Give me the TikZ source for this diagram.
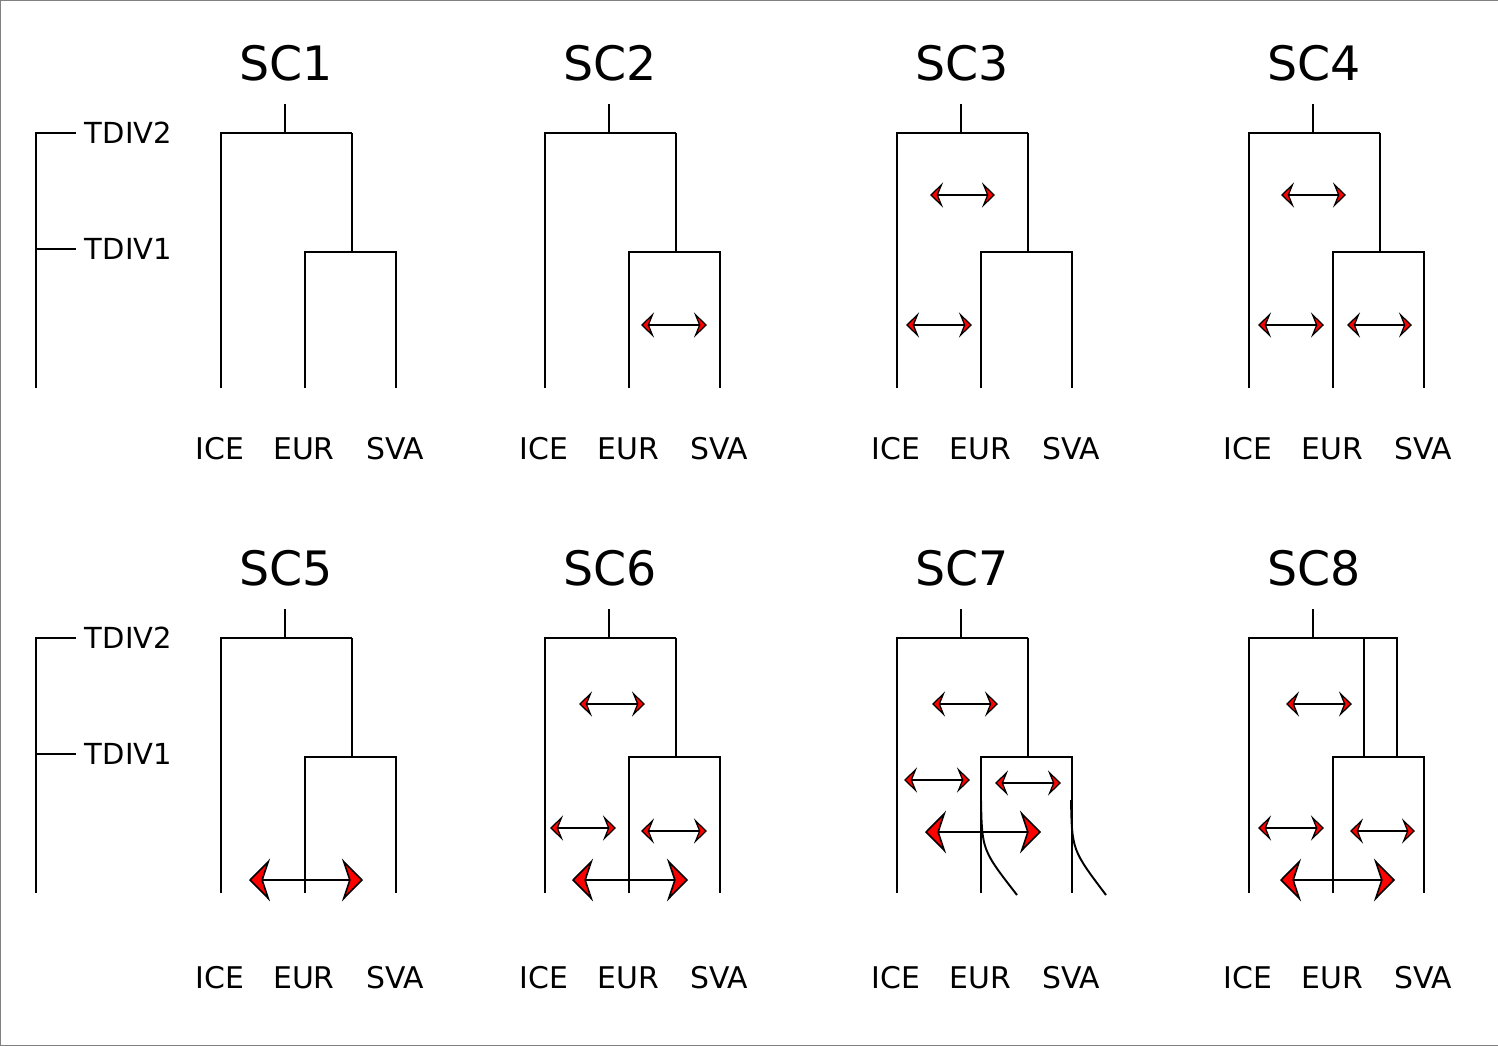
\documentclass[tikz,border=0pt]{standalone}
\usepackage{fontspec}
\setmainfont{DejaVu Sans}
\usetikzlibrary{arrows.meta}

\begin{document}
\begin{tikzpicture}[x=0.02cm, y=-0.02cm, line width=1.1pt]
        %style
        \tikzset{mig/.style = {{Stealth[length=2.6mm, width=5mm, inset=1mm, fill=red, line width=0.7pt]}-{Stealth[length=2.6mm, width=5mm, inset=1mm, fill=red, line width=0.7pt]}, line width=1.1pt}}
        \tikzset{bigmig/.style = {{Stealth[length=4.2mm, width=8.5mm, inset=1.4mm, fill=red, line width=0.9pt]}-{Stealth[length=4.2mm, width=8.5mm, inset=1.4mm, fill=red, line width=0.9pt]}, line width=1.3pt}}
        \tikzset{title/.style = {font=\fontsize{27}{30}\selectfont}}
        \tikzset{pop/.style = {font=\fontsize{17}{19}\selectfont}}
        \tikzset{tdiv/.style = {font=\fontsize{16.5}{18}\selectfont, anchor=west, inner sep=0pt}}
        \newcommand{\sctree}[5]{%
          \begin{scope}[shift={(#1,#2)}]
            \node[title] (t#3) at (286,63) {#3};
            \draw (285,104) -- (285,133);
            \draw (221,388) -- (221,133) -- (#4,133);
            \draw (305,388) -- (305,252) -- (396,252) -- (396,388);
            \node[pop] (ice#3) at (220,#5) {ICE};
            \node[pop] (eur#3) at (304,#5) {EUR};
            \node[pop] (sva#3) at (395,#5) {SVA};
          \end{scope}}
        \newcommand{\scale}[1]{%
          \begin{scope}[shift={(0,#1)}]
            \draw (36,388) -- (36,133) -- (76,133);
            \draw (36,249) -- (76,249);
            \node[tdiv] (d2) at (84,133) {TDIV2};
            \node[tdiv] (d1) at (84,249) {TDIV1};
          \end{scope}}
        \useasboundingbox (0,0) rectangle (1498,1045);
        \draw[line width=0.5pt, gray] (0,0) rectangle (1498,1045);
        \scale{0}
        \scale{505}
        \sctree{0}{0}{SC1}{352}{449}
        \sctree{324}{0}{SC2}{352}{449}
        \sctree{676}{0}{SC3}{352}{449}
        \sctree{1028}{0}{SC4}{352}{449}
        \sctree{0}{505}{SC5}{352}{473}
        \sctree{324}{505}{SC6}{352}{473}
        \sctree{676}{505}{SC7}{352}{473}
        \sctree{1028}{505}{SC8}{336}{473}
        % joints
        \foreach \dx/\dy in {0/0, 324/0, 676/0, 1028/0, 0/505, 324/505, 676/505}
          \draw ({352+\dx},{133+\dy}) -- ({352+\dx},{252+\dy});
        % SC2
        \draw[mig] (641,325) -- (707,325);
        % SC3
        \draw[mig] (930,195) -- (995,195);
        \draw[mig] (906,325) -- (972,325);
        % SC4
        \draw[mig] (1281,195) -- (1346,195);
        \draw[mig] (1258,325) -- (1324,325);
        \draw[mig] (1347,325) -- (1412,325);
        % SC5
        \draw[bigmig] (249,880) -- (363,880);
        % SC6
        \draw[mig] (579,704) -- (645,704);
        \draw[mig] (550,828) -- (616,828);
        \draw[mig] (641,831) -- (707,831);
        \draw[bigmig] (572,880) -- (688,880);
        % SC7
        \draw[mig] (932,704) -- (998,704);
        \draw[mig] (904,780) -- (970,780);
        \draw[mig] (995,783) -- (1061,783);
        \draw[bigmig] (925,832) -- (1041,832);
        \draw (981,800) .. controls (982,850) .. (1017,895);
        \draw (1071,800) .. controls (1072,850) .. (1106,895);
        % SC8
        \draw (1364,757) -- (1364,638) -- (1397,638) -- (1397,757);
        \draw[mig] (1286,704) -- (1352,704);
        \draw[mig] (1258,828) -- (1324,828);
        \draw[mig] (1350,831) -- (1415,831);
        \draw[bigmig] (1280,880) -- (1395,880);
\end{tikzpicture}
\end{document}
